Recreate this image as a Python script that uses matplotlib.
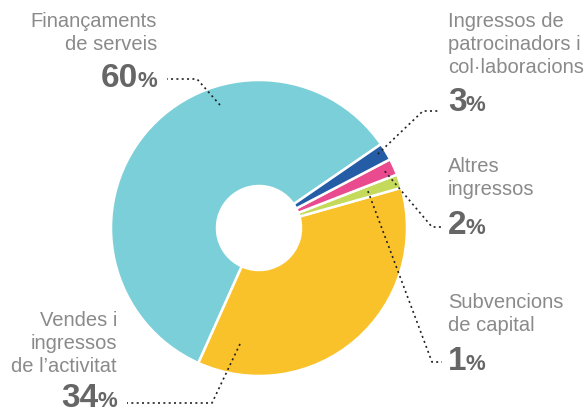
import numpy as np
import matplotlib
matplotlib.use("Agg")
import matplotlib.pyplot as plt

plt.rcParams['font.family'] = ['Liberation Sans', 'DejaVu Sans']

# ---- data ----
categories = ["Finançaments\nde serveis",
              "Vendes i\ningressos\nde l’activitat",
              "Subvencions\nde capital",
              "Altres\ningressos",
              "Ingressos de\npatrocinadors i\ncol·laboracions"]
shares = [58.7, 36.1, 1.5, 1.8, 1.9]
pct_labels = ["60", "34", "1", "2", "3"]
colors = ["#7ACFD8", "#FAC22A", "#C5DA5B", "#E94B8E", "#245DA6"]

W, H = 586, 414
fig = plt.figure(figsize=(W / 100, H / 100), dpi=100)
ax = fig.add_axes([0, 0, 1, 1])
cx, cy, R = 259, H - 229, 148
ax.pie(shares, colors=colors, startangle=34.5, counterclock=True,
       center=(cx, cy), radius=R,
       wedgeprops=dict(width=106, edgecolor='white', linewidth=1.8))
ax.set_xlim(0, W)
ax.set_ylim(0, H)
ax.set_aspect('auto')
ax.axis('off')

label_col = "#8a8a8a"
pct_col = "#666666"
fs_lab, fs_num, fs_pct = 14.5, 24, 16

# layout: (text x, align, label baseline of first line, pct baseline,
#          anchor angle deg, anchor radius, elbow pts)
layout = [
    (157, 'right', 27, 87, 107.6, 129, [(197, 80), (167, 80)]),
    (117, 'right', 326, 407, 260.7, 117.5, [(212, 404), (127, 404)]),
    (448, 'left', 308, 370, 18.7, 115, [(432, 363), (442, 363)]),
    (448, 'left', 172, 234, 24.3, 138, [(432, 228), (442, 228)]),
    (448, 'left', 27, 111, 31.9, 140, [(423, 112), (440, 112)]),
]

fig.canvas.draw()
renderer = fig.canvas.get_renderer()
line_gap = 23.2

for cat, pct, (tx, ha, yb, pb, ang, rr, elbow) in zip(categories, pct_labels, layout):
    lines = cat.split("\n")
    for i, ln in enumerate(lines):
        ax.text(tx, H - (yb + i * line_gap), ln, ha=ha, va='baseline',
                fontsize=fs_lab, color=label_col)
    if ha == 'left':
        t1 = ax.text(tx, H - pb, pct, ha='left', va='baseline', fontsize=fs_num,
                     fontweight='bold', color=pct_col)
        bb = t1.get_window_extent(renderer)
        ax.text(bb.x1 - 1, H - pb, "%", ha='left', va='baseline', fontsize=fs_pct,
                fontweight='bold', color=pct_col)
    else:
        t2 = ax.text(tx, H - pb, "%", ha='right', va='baseline', fontsize=fs_pct,
                     fontweight='bold', color=pct_col)
        bb = t2.get_window_extent(renderer)
        ax.text(bb.x0 + 1, H - pb, pct, ha='right', va='baseline', fontsize=fs_num,
                fontweight='bold', color=pct_col)
    a = np.deg2rad(ang)
    px = [cx + rr * np.cos(a)] + [e[0] for e in elbow]
    py = [cy + rr * np.sin(a)] + [H - e[1] for e in elbow]
    ax.plot(px, py, color='#222222', lw=1.2, ls=(0, (1.2, 2)))

fig.savefig("out.png", dpi=100)
